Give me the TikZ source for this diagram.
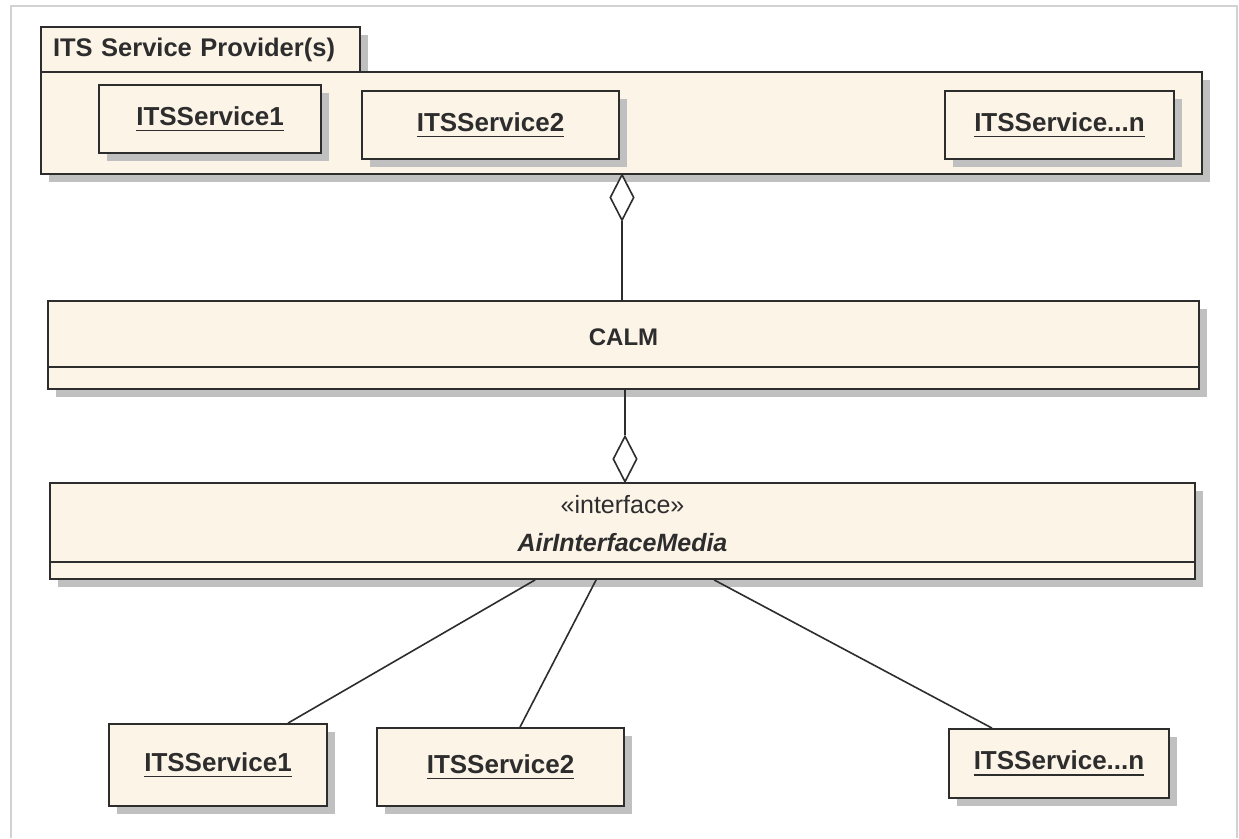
\documentclass[tikz,border=0pt]{standalone}
\usepackage{fontspec}
\setmainfont{Liberation Sans}
\usetikzlibrary{shapes.geometric,shadows}
\definecolor{cream}{RGB}{253,244,232}
\definecolor{ink}{RGB}{45,45,45}
\definecolor{shade}{RGB}{192,192,192}
\definecolor{framegray}{RGB}{210,210,210}
\newcommand\ulbox[1]{\sbox0{#1}\rlap{\raisebox{-6pt}{\color{ink}\rule{\wd0}{1.8pt}}}\usebox0}
\begin{document}
\begin{tikzpicture}[x=1pt,y=-1pt,
  uml/.style={draw=ink, line width=1.8pt, fill=cream,
    drop shadow={shadow xshift=8pt, shadow yshift=-8pt, fill=shade, opacity=1},
    inner sep=0pt, font=\fontsize{26}{30}\selectfont\bfseries, text=ink},
  txt/.style={inner sep=0pt, font=\fontsize{24}{28}\selectfont\bfseries, text=ink},
  agg/.style={diamond, draw=ink, line width=1.6pt, fill=white, minimum width=24pt, minimum height=46pt, inner sep=0pt},
  link/.style={draw=ink, line width=1.6pt}]
\useasboundingbox (0,0) rectangle (1239,838);
\fill[white] (0,0) rectangle (1239,838);
\draw[framegray, line width=2pt] (11,838) -- (11,6) -- (1237,6) -- (1237,838);

% package
\node[uml, font=\fontsize{25.5}{30}\selectfont\bfseries, minimum width=319pt, minimum height=45pt, inner xsep=12pt, text width=295pt, align=left] (tab) at (200.5,49.5) {ITS Service Provider(s)};
\node[uml, minimum width=1161pt, minimum height=102pt] (pkg) at (621.5,123) {};
\node[uml, minimum width=222pt, minimum height=68pt] (s1t) at (210,119) {\ulbox{ITSService1}};
\node[uml, minimum width=257pt, minimum height=68pt] (s2t) at (490.5,125) {\ulbox{ITSService2}};
\node[uml, minimum width=229pt, minimum height=68pt] (snt) at (1059.5,125) {\ulbox{ITSService...n}};

% CALM
\node[uml, minimum width=1151pt, minimum height=88pt] (calm) at (623.5,345) {};
\draw[ink, line width=1.8pt] ([yshift=-67pt]calm.north west) -- ([yshift=-67pt]calm.north east);
\node[txt] (calmt) at ([yshift=-37pt]calm.north) {CALM};

% AirInterfaceMedia
\node[uml, minimum width=1145pt, minimum height=96pt] (aim) at (622.5,531) {};
\draw[ink, line width=1.8pt] ([yshift=-80pt]aim.north west) -- ([yshift=-80pt]aim.north east);
\node[txt, font=\fontsize{25}{28}\selectfont] (st) at ([yshift=-22pt]aim.north) {«interface»};
\node[txt, font=\fontsize{25}{28}\selectfont\bfseries\itshape] (aimt) at ([yshift=-60pt]aim.north) {AirInterfaceMedia};

% aggregation diamonds
\node[agg] (d1) at (622,197.5) {};
\node[agg] (d2) at (625,459) {};
\draw[link] (d1.south) -- (d1.south |- calm.north);
\draw[link] (d2.north |- calm.south) -- (d2.north);

% bottom services
\node[uml, minimum width=218pt, minimum height=82pt] (s1b) at (218,765) {\ulbox{ITSService1}};
\node[uml, minimum width=247pt, minimum height=78pt] (s2b) at (500.5,767) {\ulbox{ITSService2}};
\node[uml, minimum width=220pt, minimum height=69pt] (snb) at (1059,763.5) {\ulbox{ITSService...n}};

\draw[link] ([xshift=486pt]aim.south west) -- ([xshift=70pt]s1b.north);
\draw[link] ([xshift=547pt]aim.south west) -- ([xshift=19.5pt]s2b.north);
\draw[link] ([xshift=665pt]aim.south west) -- ([xshift=-67pt]snb.north);
\end{tikzpicture}
\end{document}
